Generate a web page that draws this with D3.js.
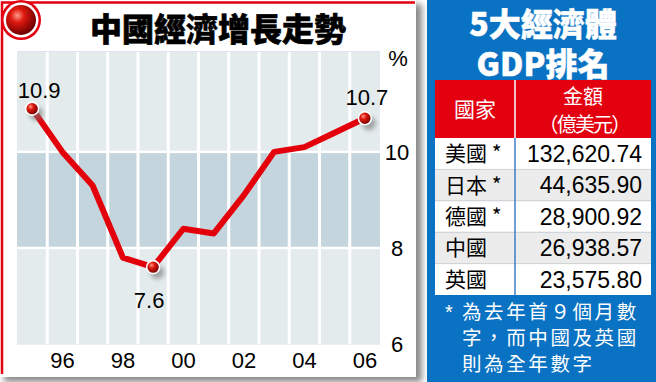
<!DOCTYPE html>
<html>
<head>
<meta charset="utf-8">
<script src="https://cdn.jsdelivr.net/npm/d3@7"></script>
<style>
  html, body { margin: 0; padding: 0; background: #ffffff; }
  svg { display: block; }
</style>
</head>
<body>
<svg id="chart" width="656" height="382"></svg>
<script>
// ---------- data ----------
const years = [1995, 1996, 1997, 1998, 1999, 2000, 2001, 2002, 2003, 2004, 2005, 2006];
const growth = [10.9, 10.0, 9.3, 7.8, 7.6, 8.4, 8.3, 9.1, 10.0, 10.1, 10.4, 10.7];
const labelledYears = [1995, 1999, 2006];
const xTickYears = [1996, 1998, 2000, 2002, 2004, 2006];
const yTicks = [6, 8, 10];
const chartTitle = "中國經濟增長走勢";

const tableTitle = ["5大經濟體", "GDP排名"];
const tableHeader = ["國家", "金額", "（億美元）"];
const countries = ["美國 *", "日本 *", "德國 *", "中國", "英國"];
const gdpValues = [132620.74, 44635.90, 28900.92, 26938.57, 23575.80];
const footnote = ["為去年首９個月數", "字，而中國及英國", "則為全年數字"];

// ---------- setup ----------
const svg = d3.select("#chart");
const defs = svg.append("defs");
const LATIN = "'Liberation Sans', Arial, sans-serif";
const CJK = "'Noto Sans CJK TC', 'Noto Sans CJK SC', sans-serif";

const ball = defs.append("radialGradient").attr("id", "ball")
  .attr("cx", "38%").attr("cy", "35%").attr("r", "65%");
ball.append("stop").attr("offset", "0%").attr("stop-color", "#ff9a8a");
ball.append("stop").attr("offset", "35%").attr("stop-color", "#e0190f");
ball.append("stop").attr("offset", "100%").attr("stop-color", "#6e0000");
const blur = defs.append("filter").attr("id", "blur").attr("x", "-50%").attr("y", "-50%").attr("width", "200%").attr("height", "200%");
blur.append("feGaussianBlur").attr("stdDeviation", 2);
const blurBig = defs.append("filter").attr("id", "blurBig").attr("x", "-10%").attr("y", "-10%").attr("width", "120%").attr("height", "120%");
blurBig.append("feGaussianBlur").attr("stdDeviation", 3);

// ---------- left card ----------
svg.append("rect").attr("x", 4).attr("y", 4).attr("width", 418).attr("height", 378)
  .attr("fill", "#8a8a8a").attr("filter", "url(#blurBig)");
svg.append("rect").attr("x", 0).attr("y", 0).attr("width", 416).attr("height", 377).attr("fill", "#ffffff");
svg.append("path").attr("d", "M2,374 V2.5 H415").attr("fill", "none")
  .attr("stroke", "#e3000f").attr("stroke-width", 2.5);

// icon
svg.append("circle").attr("cx", 21).attr("cy", 20).attr("r", 20).attr("fill", "#e3000f");
svg.append("circle").attr("cx", 21).attr("cy", 20).attr("r", 17.5).attr("fill", "#ffffff");
svg.append("circle").attr("cx", 21).attr("cy", 20).attr("r", 15).attr("fill", "url(#ball)");

// title
svg.append("text").attr("x", 218).attr("y", 27).attr("text-anchor", "middle")
  .attr("dominant-baseline", "central").attr("font-family", CJK).attr("font-weight", 900)
  .attr("font-size", 32).attr("fill", "#000").attr("stroke", "#000").attr("stroke-width", 0.6)
  .text(chartTitle);

// scales
const plotL = 17, plotR = 380, plotT = 52, plotB = 344;
const x = d3.scaleBand().domain(years).range([plotL, plotR]).padding(0);
const y = d3.scaleLinear().domain([6, 12.08]).range([plotB, plotT]);

// background bands
const zones = [
  { lo: 6, hi: 8, fill: "#e3ebec" },
  { lo: 8, hi: 10, fill: "#c5d5dd" },
  { lo: 10, hi: 12.08, fill: "#e3ebec" }
];
const gBg = svg.append("g");
gBg.selectAll("rect.zone").data(zones).enter().append("rect").attr("class", "zone")
  .attr("x", plotL).attr("width", plotR - plotL)
  .attr("y", z => y(z.hi)).attr("height", z => y(z.lo) - y(z.hi))
  .attr("fill", z => z.fill);
// white grid separators
const colEdges = years.slice(1).map(d => x(d));
gBg.selectAll("rect.v").data(colEdges).enter().append("rect").attr("class", "v")
  .attr("x", d => d - 1.5).attr("width", 3).attr("y", plotT).attr("height", plotB - plotT)
  .attr("fill", "#ffffff");
gBg.selectAll("rect.h").data([8, 10]).enter().append("rect").attr("class", "h")
  .attr("x", plotL).attr("width", plotR - plotL).attr("y", d => y(d) - 1.2).attr("height", 2.4)
  .attr("fill", "#ffffff");
svg.append("line").attr("x1", plotL).attr("x2", plotR).attr("y1", plotT - 0.5).attr("y2", plotT - 0.5)
  .attr("stroke", "#e2e2f0").attr("stroke-width", 1);
svg.append("line").attr("x1", plotL).attr("x2", plotR).attr("y1", plotB + 0.5).attr("y2", plotB + 0.5)
  .attr("stroke", "#e8eef0").attr("stroke-width", 1);

// y axis (right side labels)
const yAxis = d3.axisRight(y).tickValues(yTicks).tickSize(0).tickPadding(0).tickFormat(d3.format("d"));
const gy = svg.append("g").attr("transform", `translate(397,0)`).call(yAxis);
gy.select(".domain").remove();
gy.selectAll("text").attr("font-family", LATIN).attr("font-size", 22).attr("fill", "#000")
  .attr("text-anchor", "middle").attr("x", 0).attr("dy", "0.36em");
svg.append("text").attr("x", 398).attr("y", 58).attr("dy", "0.36em").attr("text-anchor", "middle")
  .attr("font-family", LATIN).attr("font-size", 22).attr("fill", "#000").text("%");

// x axis
const xAxis = d3.axisBottom(x).tickValues(xTickYears).tickSize(0).tickPadding(0)
  .tickFormat(d => String(d).slice(2));
const gx = svg.append("g").attr("transform", `translate(0,360)`).call(xAxis);
gx.select(".domain").remove();
gx.selectAll("text").attr("font-family", LATIN).attr("font-size", 22).attr("fill", "#000")
  .attr("y", 0).attr("dy", "0.36em");

// line
const line = d3.line().x((d, i) => x(years[i]) + x.bandwidth() / 2).y(d => y(d));
svg.append("path").datum(growth).attr("d", line).attr("fill", "none")
  .attr("stroke", "#e3000b").attr("stroke-width", 6).attr("stroke-linejoin", "round");

// markers
const pts = years.map((yr, i) => ({ yr, v: growth[i] })).filter(d => labelledYears.includes(d.yr));
const cx = d => x(d.yr) + x.bandwidth() / 2;
svg.selectAll(null).data(pts).enter().append("circle")
  .attr("cx", d => cx(d) + 4).attr("cy", d => y(d.v) + 5).attr("r", 7)
  .attr("fill", "#777").attr("opacity", 0.6).attr("filter", "url(#blur)");
svg.selectAll(null).data(pts).enter().append("circle")
  .attr("cx", cx).attr("cy", d => y(d.v)).attr("r", 6.5)
  .attr("fill", "url(#ball)").attr("stroke", "#fff").attr("stroke-width", 1.6);

// value labels
const labelOffset = { 1995: [7, -19], 1999: [-4, 33], 2006: [2, -21] };
svg.selectAll(null).data(pts).enter().append("text")
  .attr("x", d => cx(d) + labelOffset[d.yr][0])
  .attr("y", d => y(d.v) + labelOffset[d.yr][1])
  .attr("dy", "0.36em").attr("text-anchor", "middle")
  .attr("font-family", LATIN).attr("font-size", 22).attr("fill", "#000")
  .text(d => d.v.toFixed(1));

// ---------- right panel ----------
const P = { x: 427, w: 229 };
svg.append("rect").attr("x", P.x).attr("y", 0).attr("width", P.w).attr("height", 382).attr("fill", "#0a72c2");

const tcx = 543;
tableTitle.forEach((t, i) => {
  svg.append("text").attr("x", tcx).attr("y", [36, 76][i]).attr("text-anchor", "middle")
    .attr("font-family", CJK).attr("font-weight", 900)
    .attr("font-size", 32).attr("fill", "#fff").attr("stroke", "#fff").attr("stroke-width", 0.5)
    .text(t);
});

// table
const tL = 435, tR = 651, tDiv = 515, hTop = 80, hBot = 138, rowH = 31.4;
const rowY = d3.scaleBand().domain(d3.range(countries.length))
  .range([hBot, hBot + rowH * countries.length]).padding(0);
svg.append("rect").attr("x", tL).attr("y", hTop).attr("width", tR - tL).attr("height", hBot - hTop).attr("fill", "#e3000f");
svg.selectAll(null).data(countries).enter().append("rect")
  .attr("x", tL).attr("y", (d, i) => rowY(i)).attr("width", tR - tL).attr("height", rowY.bandwidth())
  .attr("fill", (d, i) => i % 2 ? "#ececec" : "#ffffff");
svg.selectAll(null).data(countries.slice(1)).enter().append("line")
  .attr("x1", tL).attr("x2", tR).attr("y1", (d, i) => rowY(i + 1)).attr("y2", (d, i) => rowY(i + 1))
  .attr("stroke", "#d4d4d4").attr("stroke-width", 1);
svg.append("line").attr("x1", tDiv).attr("x2", tDiv).attr("y1", hTop).attr("y2", hBot)
  .attr("stroke", "#ffffff").attr("stroke-width", 1.5);
svg.append("line").attr("x1", tDiv).attr("x2", tDiv).attr("y1", hBot).attr("y2", rowY(countries.length - 1) + rowY.bandwidth())
  .attr("stroke", "#3c7ec8").attr("stroke-width", 1.5);

// header text
svg.append("text").attr("x", 475).attr("y", 117).attr("text-anchor", "middle")
  .attr("font-family", CJK).attr("font-size", 21).attr("fill", "#fff").text(tableHeader[0]);
svg.append("text").attr("x", 583).attr("y", 104).attr("text-anchor", "middle")
  .attr("font-family", CJK).attr("font-size", 20).attr("fill", "#fff").text(tableHeader[1]);
svg.append("text").attr("x", 584).attr("y", 132).attr("text-anchor", "middle")
  .attr("font-family", CJK).attr("font-size", 20).attr("letter-spacing", -1.8).attr("fill", "#fff").text(tableHeader[2]);

// rows
const fmt = d3.format(",.2f");
svg.selectAll(null).data(countries).enter().append("text")
  .attr("x", 445).attr("y", (d, i) => rowY(i) + rowY.bandwidth() / 2 + 7.5)
  .attr("font-family", CJK).attr("font-size", 21).attr("fill", "#000").text(d => d);
svg.selectAll(null).data(gdpValues).enter().append("text")
  .attr("x", 642).attr("y", (d, i) => rowY(i) + rowY.bandwidth() / 2).attr("dy", "0.36em")
  .attr("text-anchor", "end").attr("font-family", LATIN).attr("font-size", 23).attr("fill", "#000")
  .text(d => fmt(d));

// footnote
svg.append("text").attr("x", 445).attr("y", 319)
  .attr("font-family", LATIN).attr("font-size", 20).attr("fill", "#fff").text("*");
footnote.forEach((t, i) => {
  svg.append("text").attr("x", 462).attr("y", 319 + i * 26)
    .attr("font-family", CJK).attr("font-size", 19.5).attr("letter-spacing", 2.6).attr("fill", "#fff").text(t);
});
</script>
</body>
</html>
